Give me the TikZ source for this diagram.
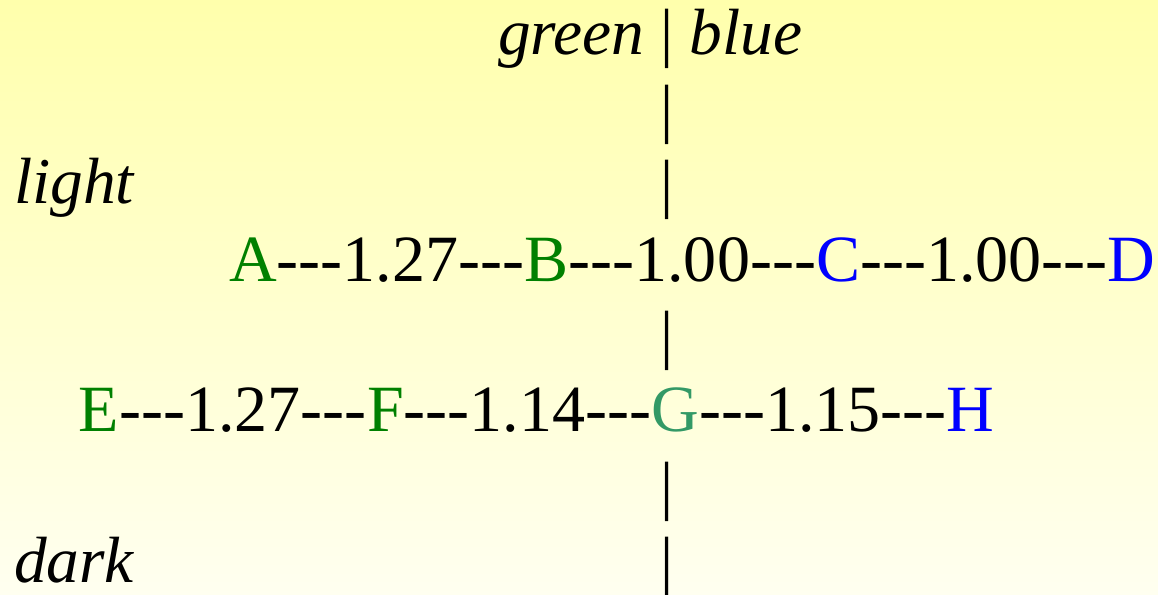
\documentclass[tikz,border=0pt]{standalone}
\usepackage{fontspec}
\setmainfont{Liberation Serif}[Ligatures=TeXOff]
\usepackage{tikz}
\usetikzlibrary{positioning}

\definecolor{grn}{RGB}{0,128,0}
\definecolor{seagrn}{RGB}{51,153,102}
\definecolor{blu}{RGB}{0,0,255}
\definecolor{bgtop}{RGB}{255,255,172}
\definecolor{bgbot}{RGB}{255,255,240}

\begin{document}
\begin{tikzpicture}[
			x=0.1mm, y=-0.1mm,
			txt/.style={inner sep=0pt, outer sep=0pt, font=\fontsize{18.6}{22}\selectfont, text height=0.7em, text depth=0.2em},
			letter/.style={txt, font=\fontsize{18.8}{22}\selectfont},
			weight/.style={txt, font=\fontsize{18.8}{22}\selectfont, text=black},
			side/.style={txt, font=\fontsize{18.6}{22}\selectfont\itshape, anchor=base west},
			bar/.style={txt, anchor=base}
			]
			
			% --- FONDO ---
			\shade[top color=bgtop, bottom color=bgbot] (0,0) rectangle (1158,595);
			\useasboundingbox (0,0) rectangle (1158,595);
			
			% --- LINEA VERTICAL ---
			\node[bar] (bar-top) at (667,55) {|};
			\foreach \y in {131,206,357,508,583}
			\node[bar] (bar-\y) at (667,\y) {|};
			
			% Encabezado
			\node[side, left=1.6mm of bar-top.base west, anchor=base east] (hdr-green) {green};
			\node[side, right=1.6mm of bar-top.base east, anchor=base west] (hdr-blue) {blue};
			
			% Etiquetas laterales
			\node[side] (light) at (14,204) {light};
			\node[side] (dark) at (14,583) {dark};
			
			% --- FILA SUPERIOR ---
			\node[letter, text=grn, anchor=base west] (A) at (229,282) {A};
			\node[weight, right=0pt of A] (AB) {---1.27---};
			\node[letter, text=grn, right=0pt of AB] (B) {B};
			\node[weight, right=0pt of B] (BC) {---1.00---};
			\node[letter, text=blu, right=0pt of BC] (C) {C};
			\node[weight, right=0pt of C] (CD) {---1.00---};
			\node[letter, text=blu, right=0pt of CD] (D) {D};
			
			% --- FILA INFERIOR ---
			\node[letter, text=grn, anchor=base west] (E) at (79,432) {E};
			\node[weight, right=0pt of E] (EF) {---1.27---};
			\node[letter, text=grn, right=0pt of EF] (F) {F};
			\node[weight, right=0pt of F] (FG) {---1.14---};
			\node[letter, text=seagrn, right=0pt of FG] (G) {G};
			\node[weight, right=0pt of G] (GH) {---1.15---};
			\node[letter, text=blu, right=0pt of GH] (H) {H};
			
		\end{tikzpicture}
\end{document}
